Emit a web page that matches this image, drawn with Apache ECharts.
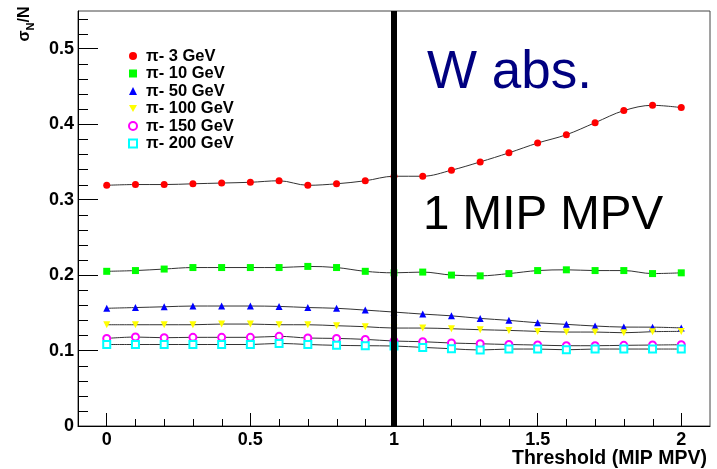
<!DOCTYPE html>
<html>
<head>
<meta charset="utf-8">
<script src="https://cdn.jsdelivr.net/npm/echarts@6/dist/echarts.min.js"></script>
<style>
html,body{margin:0;padding:0;background:#fff;}
#chart{width:717px;height:469px;}
</style>
</head>
<body>
<div id="chart"></div>
<script>
// ---- data ----
var thresholds = [0,0.1,0.2,0.3,0.4,0.5,0.6,0.7,0.8,0.9,1.0,1.1,1.2,1.3,1.4,1.5,1.6,1.7,1.8,1.9,2.0];
var seriesNames = ['π- 3 GeV','π- 10 GeV','π- 50 GeV','π- 100 GeV','π- 150 GeV','π- 200 GeV'];
var pi3   = [0.319,0.320,0.320,0.321,0.322,0.323,0.325,0.319,0.321,0.325,0.331,0.331,0.339,0.350,0.362,0.375,0.386,0.402,0.418,0.425,0.422];
var pi10  = [0.205,0.206,0.208,0.210,0.210,0.210,0.210,0.2115,0.210,0.205,0.203,0.204,0.200,0.199,0.202,0.206,0.207,0.206,0.206,0.202,0.203];
var pi50  = [0.156,0.157,0.158,0.159,0.159,0.159,0.1585,0.157,0.156,0.1536,0.151,0.1483,0.146,0.1426,0.140,0.1368,0.1347,0.1325,0.1311,0.131,0.130];
var pi100 = [0.1342,0.1342,0.1342,0.1342,0.1351,0.1351,0.1342,0.1342,0.1329,0.1316,0.1298,0.1298,0.1289,0.1276,0.1267,0.1254,0.1245,0.1245,0.1236,0.125,0.1254];
var pi150 = [0.1161,0.1179,0.117,0.1175,0.1175,0.1175,0.1188,0.1166,0.1161,0.1148,0.1126,0.1117,0.110,0.109,0.108,0.1073,0.1064,0.1064,0.1069,0.1073,0.1077];
var pi200 = [0.108,0.108,0.108,0.108,0.108,0.108,0.1095,0.108,0.1069,0.1064,0.106,0.1042,0.1024,0.1007,0.102,0.102,0.101,0.102,0.102,0.102,0.102];
var thresholdLine = 1;
var xMajorTicks = [0,0.5,1,1.5,2];
var xTickLabels = ['0','0.5','1','1.5','2'];
var xMinorTicks = [0.1,0.2,0.3,0.4,0.6,0.7,0.8,0.9,1.1,1.2,1.3,1.4,1.6,1.7,1.8,1.9];
var yMajorTicks = [0,0.1,0.2,0.3,0.4,0.5];
var yTickLabels = ['0','0.1','0.2','0.3','0.4','0.5'];
var yMinorTicks = [0.02,0.04,0.06,0.08,0.12,0.14,0.16,0.18,0.22,0.24,0.26,0.28,0.32,0.34,0.36,0.38,0.42,0.44,0.46,0.48,0.52,0.54];
var xTitle = 'Threshold (MIP MPV)';
var absorberText = 'W abs.';
var thresholdText = '1 MIP MPV';

// ---- chart ----
var FONT = "'Liberation Sans', Arial, sans-serif";
var X_MIN = -0.1, X_MAX = 2.1, Y_MIN = 0, Y_MAX = 0.55;
function pairs(ys){ return thresholds.map(function(x,i){ return [x, ys[i]]; }); }
function labelFor(vals, labels){ return function(v){ for (var i=0;i<vals.length;i++){ if (Math.abs(vals[i]-v)<1e-9) return labels[i]; } return ''; }; }

var styles = [
  {symbol:'circle', size:7, color:'#ff0000', empty:false},
  {symbol:'rect', size:7, color:'#00ff00', empty:false},
  {symbol:'triangle', size:7, color:'#0000ff', empty:false},
  {symbol:'path://M0,0 L10,0 L5,9 Z', size:7, color:'#ffff00', empty:false},
  {symbol:'emptyCircle', size:7, color:'#ff00ff', empty:true},
  {symbol:'emptyRect', size:7, color:'#00ffff', empty:true}
];
var values = [pi3, pi10, pi50, pi100, pi150, pi200];

var series = values.map(function(ys, i){
  var st = styles[i];
  var s = {
    name: seriesNames[i],
    type: 'line',
    data: pairs(ys),
    smooth: 0.35,
    symbol: st.symbol,
    symbolSize: st.size,
    showAllSymbol: true,
    lineStyle: {color:'#333333', width:1},
    itemStyle: st.empty ? {color: st.color, borderColor: st.color, borderWidth: 1.3} : {color: st.color, borderWidth: 0},
    emphasis: {disabled: true},
    z: 2
  };
  if (i === 0) {
    s.markLine = {
      silent: true,
      symbol: ['none','none'],
      label: {show:false},
      lineStyle: {color:'#000000', width:6, type:'solid'},
      data: [{xAxis: thresholdLine}],
      z: 10
    };
  }
  return s;
});

// minor tick marks, placed through the axis scales (api.coord)
function snap(v){ return Math.round(v) + 0.5; }
series.push({
  type: 'custom', name: 'xMinor', silent: true, clip: false, z: 3,
  data: xMinorTicks.map(function(v){ return [v, Y_MIN]; }),
  renderItem: function(params, api){
    var p = api.coord([api.value(0), Y_MIN]);
    var x = snap(p[0]);
    return {type:'line', shape:{x1:x, y1:p[1], x2:x, y2:p[1]-7}, style:{stroke:'#000', lineWidth:1}};
  }
});
series.push({
  type: 'custom', name: 'yMinor', silent: true, clip: false, z: 3,
  data: yMinorTicks.map(function(v){ return [X_MIN, v]; }),
  renderItem: function(params, api){
    var p = api.coord([X_MIN, api.value(1)]);
    var y = snap(p[1]);
    return {type:'line', shape:{x1:p[0], y1:y, x2:p[0]+10, y2:y}, style:{stroke:'#000', lineWidth:1}};
  }
});

var legendData = seriesNames.map(function(n, i){
  var st = styles[i];
  var item = {name: n, icon: st.symbol};
  if (st.empty) item.itemStyle = {color: st.color, borderColor: st.color, borderWidth: 1.3};
  else item.itemStyle = {color: st.color, borderWidth: 0};
  return item;
});

var chart = echarts.init(document.getElementById('chart'), null, {renderer:'canvas'});
chart.setOption({
  animation: false,
  backgroundColor: '#ffffff',
  grid: {left: 78, right: 7, top: 11, bottom: 43, show: true, borderColor: '#444444', borderWidth: 1, backgroundColor: 'transparent'},
  legend: {
    orient: 'vertical', left: 128, top: 47.5, padding: 0,
    itemWidth: 8, itemHeight: 8, itemGap: 0.5,
    selectedMode: false,
    data: legendData,
    textStyle: {fontFamily: FONT, fontWeight: 'bold', fontSize: 16.5, color: '#000', lineHeight: 17, padding: [0,0,0,4]}
  },
  xAxis: {
    type:'value', min:X_MIN, max:X_MAX, position:'bottom',
    axisLine:{show:true, onZero:false, lineStyle:{color:'#000', width:1}},
    axisTick:{show:true, inside:true, length:13, customValues: xMajorTicks, lineStyle:{color:'#000', width:1}},
    axisLabel:{show:true, customValues: xMajorTicks, formatter: labelFor(xMajorTicks, xTickLabels), margin: 5,
      fontFamily: FONT, fontWeight:'bold', fontSize:18, color:'#000'},
    splitLine:{show:false}
  },
  yAxis: {
    type:'value', min:Y_MIN, max:Y_MAX, position:'left',
    axisLine:{show:true, onZero:false, lineStyle:{color:'#000', width:1}},
    axisTick:{show:true, inside:true, length:20, customValues: yMajorTicks, lineStyle:{color:'#000', width:1}},
    axisLabel:{show:true, customValues: yMajorTicks, formatter: labelFor(yMajorTicks, yTickLabels), margin: 4,
      fontFamily: FONT, fontWeight:'bold', fontSize:18, color:'#000'},
    splitLine:{show:false}
  },
  series: series,
  graphic: [
    {type:'text', x: 707, y: 459, z: 20,
     style:{text: xTitle, font: "bold 19.5px " + FONT, fill:'#000', align:'right', verticalAlign:'middle'}},
    {type:'text', x: 25, y: 24, rotation: Math.PI/2, z: 20,
     style:{text:'{a|σ}{b|N}{a|/N}', align:'center', verticalAlign:'middle',
       rich:{a:{fontFamily: FONT, fontWeight:'bold', fontSize:16, lineHeight:22, verticalAlign:'middle', fill:'#000'},
             b:{fontFamily: FONT, fontWeight:'bold', fontSize:11, lineHeight:22, verticalAlign:'bottom', fill:'#000'}}}},
    {type:'text', x: 427, y: 73, z: 20,
     style:{text: absorberText, font: "53px " + FONT, fill:'#000080', align:'left', verticalAlign:'middle'}},
    {type:'text', x: 423, y: 216, z: 20,
     style:{text: thresholdText, font: "47.5px " + FONT, fill:'#000000', align:'left', verticalAlign:'middle'}}
  ]
});
</script>
</body>
</html>
